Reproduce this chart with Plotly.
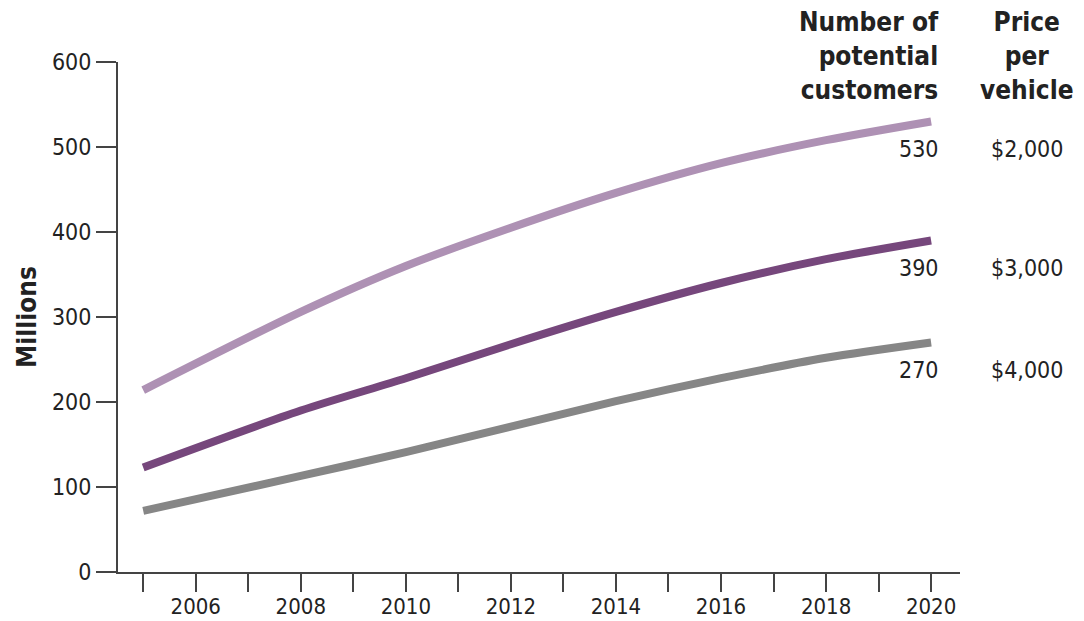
import plotly.graph_objects as go

years = [2005, 2008, 2010, 2012, 2014, 2016, 2018, 2020]
low_price = [214, 306, 360, 405, 446, 481, 508, 530]
mid_price = [123, 190, 228, 268, 306, 340, 368, 390]
high_price = [72, 113, 141, 171, 201, 228, 252, 270]
series = [low_price, mid_price, high_price]
colors = ["#ae91b4", "#76477c", "#868686"]
prices = ["$2,000", "$3,000", "$4,000"]
tick_years = list(range(2005, 2021))
tick_text = [str(y) if y % 2 == 0 else "" for y in tick_years]

FONT = "DejaVu Sans Condensed, Liberation Sans Narrow, sans-serif"
TXT = "#222222"
AX = "#444444"

fig = go.Figure()
for vals, col in zip(series, colors):
    fig.add_trace(go.Scatter(x=years, y=vals, mode="lines",
                             line=dict(color=col, width=8, shape="spline", smoothing=0.8),
                             hoverinfo="skip", showlegend=False))

for vals, price in zip(series, prices):
    end = vals[-1]
    fig.add_annotation(x=2020, y=end, xref="x", yref="y", text=str(end),
                       showarrow=False, xanchor="right", yanchor="middle",
                       xshift=10, yshift=-27, font=dict(family=FONT, size=23, color=TXT))
    fig.add_annotation(x=1.0796, y=end, xref="paper", yref="y", text=price,
                       showarrow=False, xanchor="center", yanchor="middle",
                       yshift=-27, font=dict(family=FONT, size=23, color=TXT))

fig.add_annotation(x=2020, y=1, xref="x", yref="paper", yshift=57,
                   text="<b>Number of</b><br><b>potential</b><br><b>customers</b>",
                   showarrow=False, xanchor="right", yanchor="top", align="right",
                   xshift=10, font=dict(family=FONT, size=26, color=TXT))
fig.add_annotation(x=1.0796, y=1, xref="paper", yref="paper", yshift=57,
                   text="<b>Price</b><br><b>per</b><br><b>vehicle</b>",
                   showarrow=False, xanchor="center", yanchor="top", align="center",
                   font=dict(family=FONT, size=26, color=TXT))
fig.add_annotation(x=-0.108, y=0.5, xref="paper", yref="paper", text="<b>Millions</b>",
                   textangle=-90, showarrow=False, xanchor="center", yanchor="middle",
                   font=dict(family=FONT, size=26, color=TXT))

fig.update_layout(
    width=1084, height=621,
    margin=dict(l=118, r=124, t=62, b=49),
    plot_bgcolor="white", paper_bgcolor="white",
    font=dict(family=FONT, size=23, color=TXT),
    xaxis=dict(range=[2004.52, 2020.55], tickvals=tick_years, ticktext=tick_text,
               ticks="outside", ticklen=18, tickwidth=2, tickcolor=AX,
               showline=True, linecolor=AX, linewidth=2, showgrid=False,
               zeroline=False, automargin=False, ticklabelstandoff=-4,
               tickfont=dict(family=FONT, size=22, color=TXT)),
    yaxis=dict(range=[0, 600], tickvals=[0, 100, 200, 300, 400, 500, 600],
               ticks="outside", ticklen=20, tickwidth=2, tickcolor=AX,
               showline=True, linecolor=AX, linewidth=2, showgrid=False,
               zeroline=False, automargin=False,
               tickfont=dict(family=FONT, size=23, color=TXT)),
)

fig.write_html("out.html", config={"displayModeBar": False},
               post_script="document.body.style.margin='0px';")
